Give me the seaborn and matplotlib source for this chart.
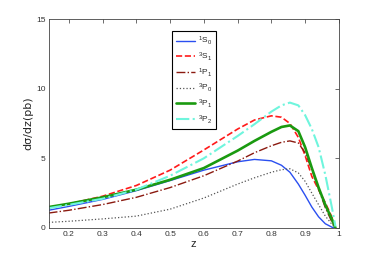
import matplotlib
matplotlib.use('Agg')
import matplotlib.pyplot as plt
import seaborn as sns

# z grid and curves
z = [0.14, 0.2, 0.3, 0.4, 0.5, 0.6, 0.7, 0.75, 0.8, 0.83, 0.855, 0.88, 0.9, 0.92, 0.94, 0.96, 0.98, 0.99]
s1_0 = [1.27, 1.55, 2.05, 2.68, 3.40, 4.15, 4.75, 4.92, 4.82, 4.50, 4.00, 3.15, 2.35, 1.50, 0.80, 0.30, 0.05, 0.0]
s3_1 = [1.45, 1.72, 2.28, 3.05, 4.15, 5.60, 7.10, 7.75, 8.05, 7.95, 7.50, 6.50, 5.20, 3.70, 2.75, 1.80, 0.75, 0.0]
p1_1 = [1.07, 1.27, 1.68, 2.20, 2.90, 3.75, 4.80, 5.40, 5.90, 6.15, 6.25, 6.10, 5.40, 4.20, 2.80, 1.45, 0.40, 0.0]
p3_0 = [0.40, 0.48, 0.65, 0.85, 1.35, 2.15, 3.15, 3.60, 4.00, 4.18, 4.25, 3.95, 3.35, 2.50, 1.67, 0.85, 0.25, 0.0]
p3_1 = [1.50, 1.74, 2.20, 2.75, 3.46, 4.30, 5.55, 6.25, 6.90, 7.25, 7.36, 6.95, 5.80, 4.30, 2.90, 1.65, 0.60, 0.0]
p3_2 = [1.42, 1.66, 2.10, 2.75, 3.75, 5.00, 6.60, 7.45, 8.35, 8.80, 9.00, 8.80, 8.10, 7.10, 5.80, 3.80, 1.40, 0.10]

labels = [r'$^1$S$_0$', r'$^3$S$_1$', r'$^1$P$_1$', r'$^3$P$_0$', r'$^3$P$_1$', r'$^3$P$_2$']
series = [s1_0, s3_1, p1_1, p3_0, p3_1, p3_2]
colors = ['#2a4ff0', '#ff1a1a', '#8b1a10', '#555555', '#1a9a10', '#6ff5dd']
styles = ['-', '--', '-.', ':', '-', '-.']
widths = [1.0, 1.2, 1.0, 0.9, 1.9, 1.5]

sns.set_style('white')
plt.rcParams['font.family'] = ['Liberation Sans', 'DejaVu Sans']
plt.rcParams['mathtext.default'] = 'regular'

fig = plt.figure(figsize=(3.74, 2.57), dpi=100)
ax = fig.add_axes([0.130, 0.113, 0.776, 0.813])

for y, lab, c, ls, lw in zip(series, labels, colors, styles, widths):
    sns.lineplot(x=z, y=y, ax=ax, color=c, linestyle=ls, linewidth=lw, label=lab)

ax.set_xlim(0.14, 1.0)
ax.set_ylim(0, 15)
ax.set_xticks([0.2, 0.3, 0.4, 0.5, 0.6, 0.7, 0.8, 0.9, 1.0])
ax.set_xticklabels(['0.2', '0.3', '0.4', '0.5', '0.6', '0.7', '0.8', '0.9', '1'])
ax.set_yticks([0, 5, 10, 15])
ax.tick_params(direction='in', length=3, width=0.5, labelsize=6, top=True, right=True,
               colors='#333333', pad=2)
for sp in ax.spines.values():
    sp.set_color('#444444')
    sp.set_linewidth(0.6)
ax.set_xlabel('z', fontsize=8, labelpad=1)
ax.set_ylabel('dσ/dz(pb)', fontsize=8, labelpad=2,
              fontfamily=['DejaVu Sans'])

leg = ax.legend(loc='upper left', bbox_to_anchor=(0.4255, 0.943), fontsize=6,
                handlelength=2.3, labelspacing=0.38, fancybox=False, framealpha=1,
                borderpad=0.45, handletextpad=0.4, borderaxespad=0)
leg.get_frame().set_edgecolor('black')
leg.get_frame().set_linewidth(0.8)

fig.savefig('out.png', dpi=100)
